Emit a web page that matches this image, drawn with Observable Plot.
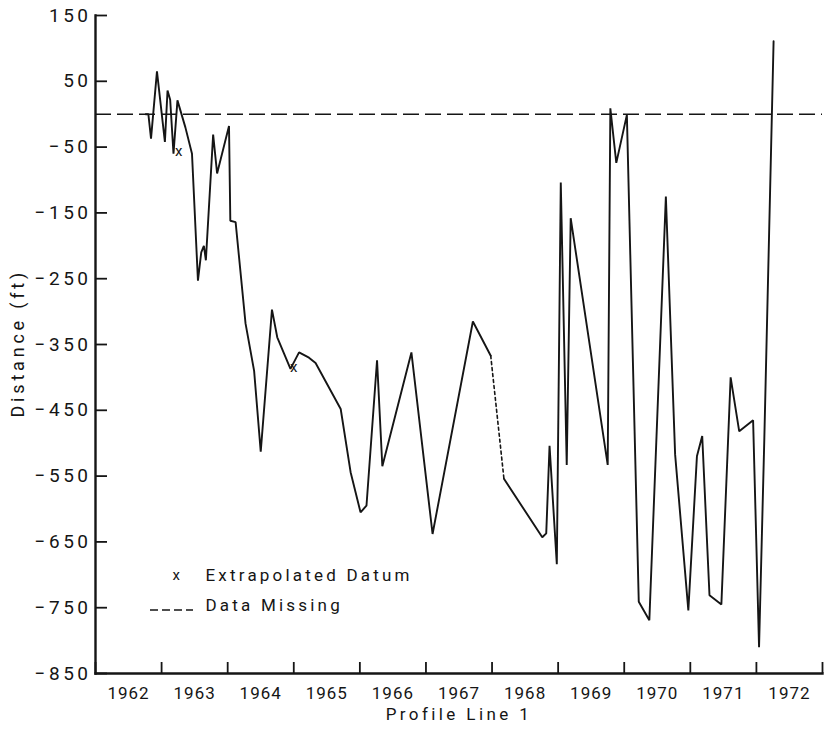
<!DOCTYPE html>
<html>
<head>
<meta charset="utf-8">
<script src="https://cdn.jsdelivr.net/npm/d3@7"></script>
<script src="https://cdn.jsdelivr.net/npm/@observablehq/plot@0.6"></script>
<style>
  html, body { margin: 0; padding: 0; background: #fff; }
  #chart svg { display: block; }
</style>
</head>
<body>
<div id="chart"></div>
<script>
// ---- Data ----
const years = [
  1962.76, 1962.80, 1962.84, 1962.93, 1963.05, 1963.09, 1963.13, 1963.18, 1963.24, 1963.36,
  1963.46, 1963.55, 1963.60, 1963.64, 1963.67, 1963.78, 1963.84, 1964.02, 1964.04, 1964.12,
  1964.27, 1964.40, 1964.50, 1964.67, 1964.75, 1964.95, 1965.08, 1965.23, 1965.33, 1965.71,
  1965.86, 1966.01, 1966.10, 1966.26, 1966.34, 1966.78, 1967.10, 1967.71, 1967.98,
  1968.18, 1968.76, 1968.82, 1968.87, 1968.98, 1969.04, 1969.13, 1969.19, 1969.75, 1969.79,
  1969.88, 1970.04, 1970.22, 1970.38, 1970.63, 1970.77, 1970.97, 1971.10, 1971.18, 1971.29,
  1971.47, 1971.61, 1971.74, 1971.95, 1972.04, 1972.12, 1972.26
];
const distances = [
  0, 0, -37, 65, -42, 36, 22, -60, 21, -20,
  -60, -253, -210, -200, -222, -31, -90, -18, -162, -164,
  -318, -390, -513, -297, -339, -387, -362, -370, -378, -448,
  -544, -605, -595, -374, -535, -362, -638, -315, -367,
  -554, -643, -637, -504, -684, -104, -533, -158, -533, 9,
  -74, -1, -741, -769, -125, -517, -754, -520, -489, -731,
  -745, -400, -482, -465, -810, -492, 111
];
// the record is missing between these two points (index of first point of the gap)
const missingStart = 38;

const extrapolatedYears = [1963.23, 1964.97];
const extrapolatedDistances = [-55, -383];

const yTicks = [150, 50, -50, -150, -250, -350, -450, -550, -650, -750, -850];
const yearBoundaries = [1962, 1963, 1964, 1965, 1966, 1967, 1968, 1969, 1970, 1971, 1972, 1973];
const yearMids = [1962.5, 1963.5, 1964.5, 1965.5, 1966.5, 1967.5, 1968.5, 1969.5, 1970.5, 1971.5, 1972.5];
const yearLabels = ["1962", "1963", "1964", "1965", "1966", "1967", "1968", "1969", "1970", "1971", "1972"];
const referenceLine = [0];

const xTitle = "Profile Line 1";
const yTitle = "Distance (ft)";
const legendMarker = "x";
const legendLabels = ["Extrapolated Datum", "Data Missing"];

// ---- Build tables ----
const rows = years.map((t, i) => ({t, v: distances[i], seg: i <= missingStart ? "a" : "b"}));
const missingRows = rows.slice(missingStart, missingStart + 2);
const extrapolated = extrapolatedYears.map((t, i) => ({t, v: extrapolatedDistances[i]}));

const ink = "#151515";
const font = "Roboto, 'DejaVu Sans', sans-serif";

// legend dash sample drawn as a small custom mark
function legendDash(index, scales, values, dims) {
  const x0 = dims.marginLeft + 55, x1 = dims.marginLeft + 98;
  const y = dims.height - dims.marginBottom - 63;
  const g = d3.create("svg:g").attr("aria-label", "legend-dash");
  g.append("line")
    .attr("x1", x0).attr("x2", x1).attr("y1", y).attr("y2", y)
    .attr("stroke", ink).attr("stroke-width", 1.6)
    .attr("stroke-dasharray", "8,4");
  return g.node();
}

const chart = Plot.plot({
  width: 828,
  height: 731,
  marginLeft: 95,
  marginRight: 6,
  marginTop: 15,
  marginBottom: 58,
  style: {fontFamily: font, color: ink, background: "#fff"},
  x: {domain: [1962, 1973]},
  y: {domain: [-850, 150]},
  marks: [
    Plot.ruleY(referenceLine, {y: d => d, stroke: ink, strokeWidth: 1.6, strokeDasharray: "16,6"}),
    Plot.line(rows, {x: "t", y: "v", z: "seg", stroke: ink, strokeWidth: 1.9, strokeLinejoin: "miter"}),
    Plot.line(missingRows, {x: "t", y: "v", stroke: ink, strokeWidth: 1.6, strokeDasharray: "3,3"}),
    Plot.text(extrapolated, {x: "t", y: "v", text: () => legendMarker, fontSize: 15, fill: ink, dx: 2, dy: 1}),
    Plot.axisY({
      ticks: yTicks, tickSize: -12, tickPadding: 16, fontSize: 19, stroke: ink, strokeWidth: 1.8,
      tickFormat: d => (d < 0 ? "\u2212" : "") + Math.abs(d), label: null
    }),
    Plot.axisX({ticks: yearBoundaries, tickSize: -11, tickFormat: () => "", stroke: ink, strokeWidth: 1.8, label: null}),
    Plot.axisX({
      ticks: yearMids, tickSize: 0, tickPadding: 13, fontSize: 17,
      tickFormat: d => yearLabels[yearMids.indexOf(d)], label: null
    }),
    Plot.frame({anchor: "left", stroke: ink, strokeWidth: 2.4}),
    Plot.frame({anchor: "bottom", stroke: ink, strokeWidth: 2.4}),
    Plot.text([xTitle], {text: d => d, frameAnchor: "bottom", dy: 46, fontSize: 17, fill: ink}),
    Plot.text([yTitle], {text: d => d, frameAnchor: "left", textAnchor: "start", rotate: -90, dx: -77, dy: 73, fontSize: 18, fill: ink}),
    Plot.text([legendMarker], {text: d => d, frameAnchor: "bottom-left", dx: 77, dy: -94, fontSize: 15, fill: ink}),
    Plot.text([legendLabels[0]], {text: d => d, frameAnchor: "bottom-left", textAnchor: "start", dx: 110, dy: -93, fontSize: 17, fill: ink}),
    Plot.text([legendLabels[1]], {text: d => d, frameAnchor: "bottom-left", textAnchor: "start", dx: 110, dy: -63, fontSize: 17, fill: ink}),
    legendDash
  ]
});

// letter spacing to mimic the wide hand lettering of the original
const spacing = new Map([
  [xTitle, 3.4], [yTitle, 3.8], [legendLabels[0], 3.2], [legendLabels[1], 3.2]
]);
d3.select(chart).selectAll("text").each(function () {
  const s = this.textContent;
  if (spacing.has(s)) this.setAttribute("letter-spacing", spacing.get(s));
  else if (yearLabels.includes(s)) this.setAttribute("letter-spacing", 1);
  else if (/\d/.test(s)) this.setAttribute("letter-spacing", 3.5);
});

document.getElementById("chart").appendChild(chart);
</script>
</body>
</html>
